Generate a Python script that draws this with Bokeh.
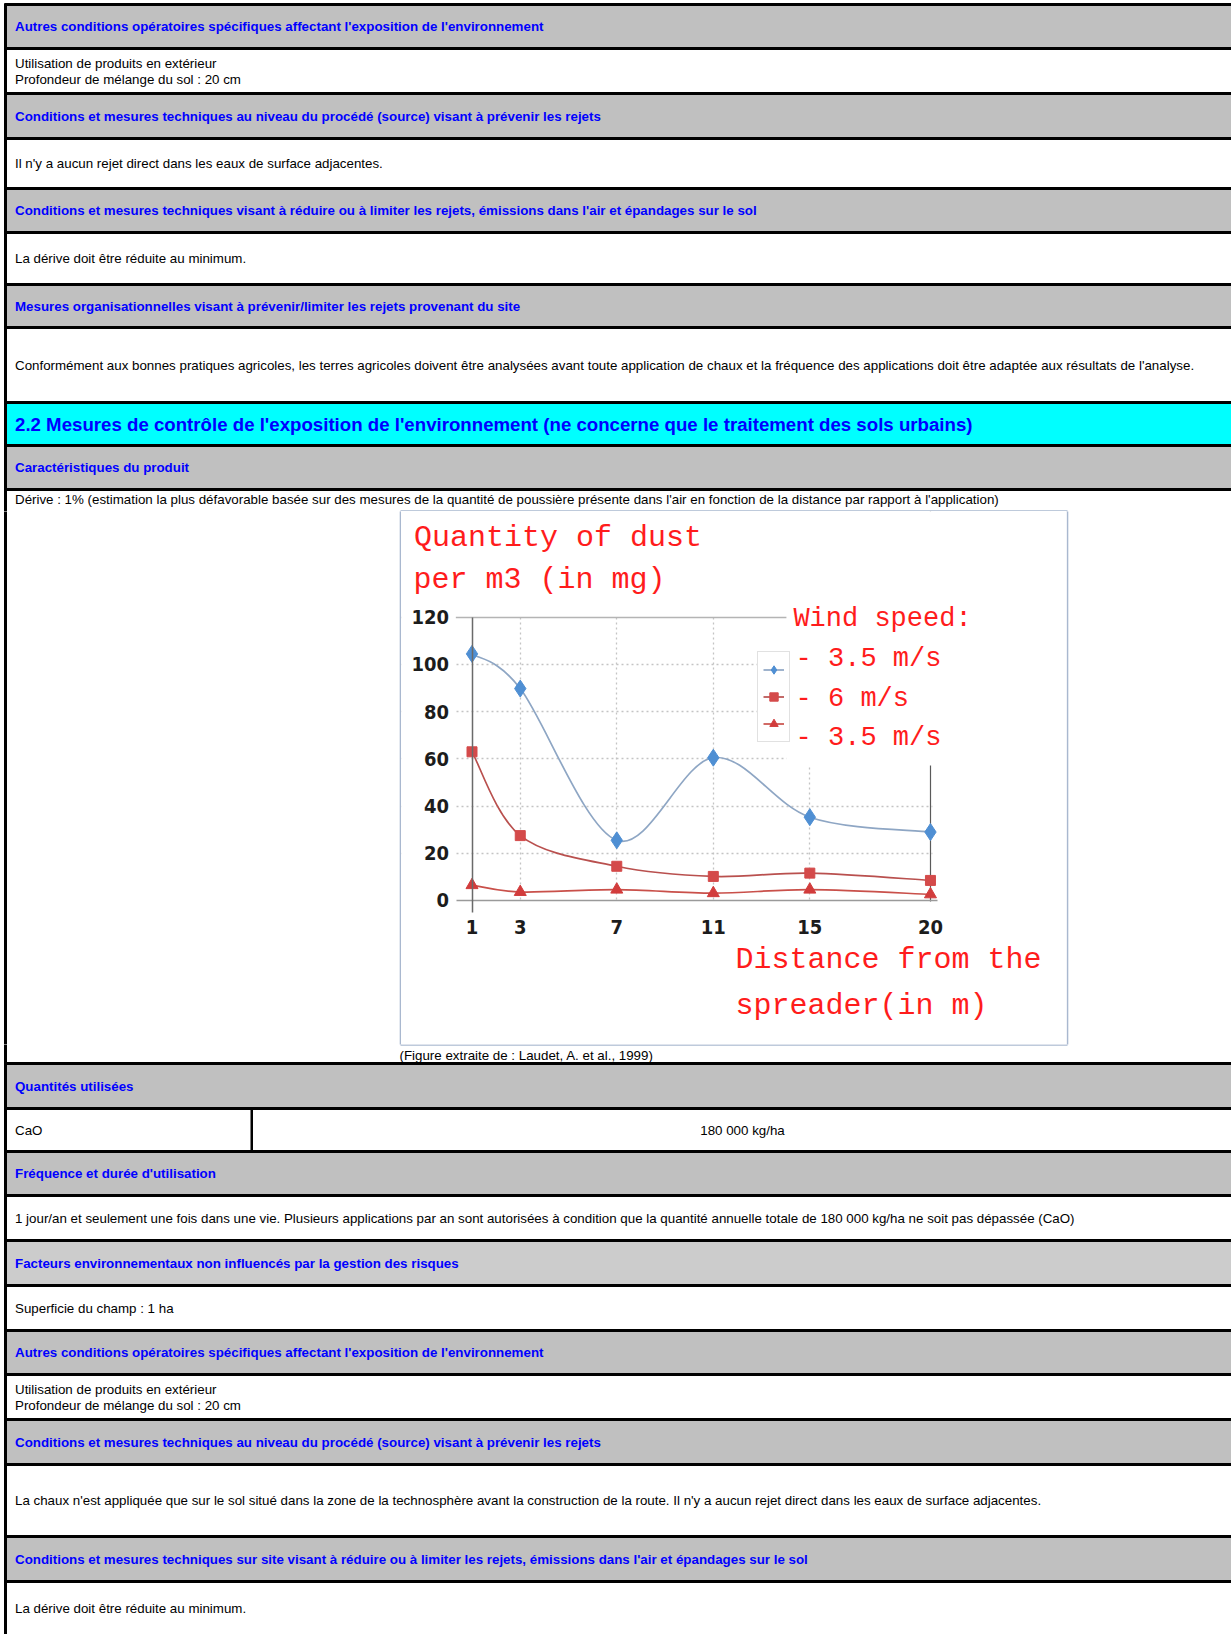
from bokeh.plotting import figure
from bokeh.layouts import column, row
from bokeh.models import (Range1d, FixedTicker, BoxAnnotation, Label, Grid, LinearAxis,
                          Legend, LegendItem, ColumnDataSource, GlobalInlineStyleSheet)
from bokeh.core.properties import value
from bokeh.embed import file_html
from bokeh.resources import INLINE

# ---------------- chart data ----------------
distance_m = [1, 3, 7, 11, 15, 20]
dust_wind_3_5_a = [104.5, 89.8, 25.5, 60.5, 35.3, 29.0]
dust_wind_6 = [63.0, 27.5, 14.5, 10.2, 11.6, 8.5]
dust_wind_3_5_b = [6.5, 3.6, 4.6, 3.1, 4.6, 2.6]
dust_ticks = [0, 20, 40, 60, 80, 100, 120]
legend_title = "Wind speed:"
legend_labels = ["- 3.5 m/s", "- 6 m/s", "- 3.5 m/s"]
chart_title = ["Quantity of dust", "per m3 (in mg)"]
chart_xlabel = ["Distance from the", "spreader(in m)"]
caption = "(Figure extraite de : Laudet, A. et al., 1999)"

# ---------------- document texts ----------------
t_autres = "Autres conditions opératoires spécifiques affectant l'exposition de l'environnement"
t_util = "Utilisation de produits en extérieur"
t_prof = "Profondeur de mélange du sol : 20 cm"
t_cond_src = "Conditions et mesures techniques au niveau du procédé (source) visant à prévenir les rejets"
t_aucun = "Il n'y a aucun rejet direct dans les eaux de surface adjacentes."
t_cond_red = "Conditions et mesures techniques visant à réduire ou à limiter les rejets, émissions dans l'air et épandages sur le sol"
t_derive_min = "La dérive doit être réduite au minimum."
t_orga = "Mesures organisationnelles visant à prévenir/limiter les rejets provenant du site"
t_conforme = ("Conformément aux bonnes pratiques agricoles, les terres agricoles doivent être analysées avant toute "
              "application de chaux et la fréquence des applications doit être adaptée aux résultats de l'analyse.")
t_section = "2.2 Mesures de contrôle de l'exposition de l'environnement (ne concerne que le traitement des sols urbains)"
t_carac = "Caractéristiques du produit"
t_derive = ("Dérive : 1% (estimation la plus défavorable basée sur des mesures de la quantité de poussière présente "
            "dans l'air en fonction de la distance par rapport à l'application)")
t_quant = "Quantités utilisées"
t_cao = "CaO"
t_cao_val = "180 000 kg/ha"
t_freq = "Fréquence et durée d'utilisation"
t_jour = ("1 jour/an et seulement une fois dans une vie. Plusieurs applications par an sont autorisées à condition "
          "que la quantité annuelle totale de 180 000 kg/ha ne soit pas dépassée (CaO)")
t_fact = "Facteurs environnementaux non influencés par la gestion des risques"
t_superf = "Superficie du champ : 1 ha"
t_chaux = ("La chaux n'est appliquée que sur le sol situé dans la zone de la technosphère avant la construction "
           "de la route. Il n'y a aucun rejet direct dans les eaux de surface adjacentes.")
t_cond_site = ("Conditions et mesures techniques sur site visant à réduire ou à limiter les rejets, émissions "
               "dans l'air et épandages sur le sol")

# page layout (pixel rows of the document table)
doc_rows = [
    (4, 48, "hdr", [t_autres]),
    (48, 93, "body", [t_util, t_prof]),
    (93, 138, "hdr", [t_cond_src]),
    (138, 188, "body", [t_aucun]),
    (188, 232, "hdr", [t_cond_red]),
    (232, 284, "body", [t_derive_min]),
    (284, 327, "hdr", [t_orga]),
    (327, 402, "body", [t_conforme]),
    (402, 445, "sec", [t_section]),
    (445, 489, "hdr", [t_carac]),
    (489, 1063, "top", [t_derive]),
    (1063, 1108, "hdr", [t_quant]),
    (1108, 1151, "split", [t_cao, t_cao_val]),
    (1151, 1195, "hdr", [t_freq]),
    (1195, 1240, "body", [t_jour]),
    (1240, 1285, "hdr2", [t_fact]),
    (1285, 1330, "body", [t_superf]),
    (1330, 1374, "hdr", [t_autres]),
    (1374, 1419, "body", [t_util, t_prof]),
    (1419, 1464, "hdr", [t_cond_src]),
    (1464, 1536, "body", [t_chaux]),
    (1536, 1581, "hdr", [t_cond_site]),
    (1581, 1634, "body", [t_derive_min]),
]

PAGE_W = 1231
PAGE_H = 1634
FILLS = {"hdr": "#c0c0c0", "hdr2": "#cccccc", "sec": "#00ffff",
         "body": "#ffffff", "top": "#ffffff", "split": "#ffffff"}
CHART_BOX = (400, 1067, 510.5, 1044.5)  # left, right, top, bottom of the picture frame
SANS = "Liberation Sans"

fills = dict(left=[], right=[], top=[], bottom=[], color=[])
bars = dict(left=[], right=[], top=[], bottom=[], color=[])
txt = {k: [] for k in ("body", "hdr", "sec", "center")}

for (t, b, kind, lines) in doc_rows:
    fills["left"].append(5); fills["right"].append(PAGE_W)
    fills["top"].append(t); fills["bottom"].append(b); fills["color"].append(FILLS[kind])
    bars["left"].append(4); bars["right"].append(PAGE_W)
    bars["top"].append(t - 1.5); bars["bottom"].append(t + 1.5); bars["color"].append("#000000")
    mid = (t + b) / 2.0
    style = {"hdr": "hdr", "hdr2": "hdr", "sec": "sec"}.get(kind, "body")
    if kind == "split":
        txt["body"].append((14.5, mid, lines[0]))
        txt["center"].append(((251 + PAGE_W + 2) / 2.0, mid, lines[1]))
        bars["left"].append(250); bars["right"].append(252.5)
        bars["top"].append(t); bars["bottom"].append(b); bars["color"].append("#000000")
    elif kind == "top":
        txt["body"].append((14.5, t + 10, lines[0]))
    elif len(lines) == 2:
        for dy, s in zip((-7.5, 8.5), lines):
            txt[style].append((14.5, mid + dy, s))
    else:
        txt[style].append((14.5, mid, lines[0]))
txt["body"].append((399, 1055, caption))

# left page border
bars["left"].append(3.5); bars["right"].append(6.5)
bars["top"].append(3); bars["bottom"].append(PAGE_H); bars["color"].append("#000000")
# frame of the inserted picture
L, R, T, B = CHART_BOX
for (l, r, tt, bb) in ((L - 0.8, L + 0.8, T, B), (R - 0.8, R + 0.8, T, B),
                       (L, R, T - 0.8, T + 0.8), (L, R, B - 0.8, B + 0.8)):
    bars["left"].append(l); bars["right"].append(r)
    bars["top"].append(tt); bars["bottom"].append(bb); bars["color"].append("#a9b8cf")

TEXT_STYLES = {
    "body": dict(text_font_size="13.33px", text_color="#000000", text_align="left"),
    "center": dict(text_font_size="13.33px", text_color="#000000", text_align="center"),
    "hdr": dict(text_font_size="13.33px", text_color="#0000ff", text_align="left", text_font_style="bold"),
    "sec": dict(text_font_size="18.67px", text_color="#0000ff", text_align="left", text_font_style="bold"),
}


def doc_fig(x0, x1, y0, y1):
    p = figure(width=x1 - x0, height=y1 - y0, x_range=Range1d(x0, x1), y_range=Range1d(y1, y0),
               x_axis_type=None, y_axis_type=None, toolbar_location=None, output_backend="svg",
               min_border=0, outline_line_color=None, background_fill_color="white",
               border_fill_color="white")
    p.quad(left="left", right="right", top="top", bottom="bottom", fill_color="color",
           line_color=None, source=ColumnDataSource(fills))
    p.quad(left="left", right="right", top="top", bottom="bottom", fill_color="color",
           line_color=None, source=ColumnDataSource(bars))
    for key, entries in txt.items():
        sel = [e for e in entries if y0 + 4 < e[1] < y1 - 4 and x0 <= e[0] < x1]
        if not sel:
            continue
        src = ColumnDataSource(dict(x=[e[0] for e in sel], y=[e[1] for e in sel], text=[e[2] for e in sel]))
        p.text(x="x", y="y", text="text", source=src, text_font=value(SANS),
               text_baseline="middle", **TEXT_STYLES[key])
    return p


top_fig = doc_fig(0, PAGE_W, 0, 511)
left_fig = doc_fig(0, 401, 511, 1044)
right_fig = doc_fig(1066, PAGE_W, 511, 1044)
bottom_fig = doc_fig(0, PAGE_W, 1044, PAGE_H)

# ---------------- the chart ----------------
# the picture spans page x 401..1066, y 511..1044; x=1 sits at 471.5 px, 24.13 px per metre;
# y=0 sits at 900 px, 2.36 px per mg
chart = figure(width=665, height=533, x_range=Range1d(-1.922, 25.638), y_range=Range1d(-61.02, 164.83),
               x_axis_type=None, y_axis_type=None, min_border=0,
               toolbar_location=None, output_backend="svg", outline_line_color=None,
               background_fill_color="white", border_fill_color="white")

AX_FONT = "'Liberation Sans Narrow', 'DejaVu Sans Condensed', 'Liberation Sans', sans-serif"
yax = LinearAxis(ticker=FixedTicker(ticks=dust_ticks), fixed_location=distance_m[0],
                 bounds=(-5, dust_ticks[-1]), axis_line_color="#6a6a6a", axis_line_width=1.5,
                 major_label_standoff=23)
xax = LinearAxis(ticker=FixedTicker(ticks=distance_m), fixed_location=dust_ticks[0],
                 bounds=(0.35, 20.3), axis_line_color="#9a9a9a", axis_line_width=1.5,
                 major_label_standoff=20)
for ax in (xax, yax):
    ax.major_tick_line_color = None
    ax.minor_tick_line_color = None
    ax.major_tick_out = 0
    ax.major_tick_in = 0
    ax.major_label_text_font = AX_FONT
    ax.major_label_text_font_style = "bold"
    ax.major_label_text_font_size = "20px"
    ax.major_label_text_color = "#1c1c1c"
chart.add_layout(yax, "left")
chart.add_layout(xax, "below")

# dotted grid and the plot-area border
chart.add_layout(Grid(dimension=1, ticker=FixedTicker(ticks=dust_ticks[1:-1]), grid_line_color="#c4c4c4",
                      grid_line_dash="2 3", grid_line_width=1.3))
chart.add_layout(Grid(dimension=0, ticker=FixedTicker(ticks=distance_m[1:-1]), grid_line_color="#c4c4c4",
                      grid_line_dash="2 3", grid_line_width=1.3))
chart.add_layout(Grid(dimension=1, ticker=FixedTicker(ticks=[dust_ticks[-1]]), grid_line_color="#b4b4b4",
                      grid_line_width=1.5))
chart.add_layout(Grid(dimension=0, ticker=FixedTicker(ticks=[distance_m[-1]]), grid_line_color="#5a5a5a",
                      grid_line_width=1.2))
# white masks that limit the grid to the plot area, and the panel behind the red text
for kw in (dict(top=-0.4), dict(bottom=120.7), dict(left=20.08), dict(right=0.33),
           dict(left=14.03, bottom=57.2)):
    chart.add_layout(BoxAnnotation(fill_color="white", fill_alpha=1.0, line_alpha=0.0,
                                   level="underlay", **kw))


def bezier_source(xs, ys):
    n = len(xs)
    d = dict(x0=[], y0=[], x1=[], y1=[], cx0=[], cy0=[], cx1=[], cy1=[])
    for i in range(n - 1):
        im = max(i - 1, 0)
        ip = min(i + 2, n - 1)
        d["x0"].append(xs[i]); d["y0"].append(ys[i])
        d["x1"].append(xs[i + 1]); d["y1"].append(ys[i + 1])
        d["cx0"].append(xs[i] + (xs[i + 1] - xs[im]) / 6.0)
        d["cy0"].append(ys[i] + (ys[i + 1] - ys[im]) / 6.0)
        d["cx1"].append(xs[i + 1] - (xs[ip] - xs[i]) / 6.0)
        d["cy1"].append(ys[i + 1] - (ys[ip] - ys[i]) / 6.0)
    return ColumnDataSource(d)


series = [
    (dust_wind_3_5_a, "#8ea6c4", "diamond", "#4f8fd3", 17),
    (dust_wind_6, "#b9504e", "square", "#d44a4a", 10),
    (dust_wind_3_5_b, "#c9504a", "triangle", "#d23c3c", 12),
]
items = []
for ys, lc, mk, mc, sz in series:
    lr = chart.bezier(x0="x0", y0="y0", x1="x1", y1="y1", cx0="cx0", cy0="cy0", cx1="cx1", cy1="cy1",
                      source=bezier_source(distance_m, ys), line_color=lc, line_width=1.7)
    sr = chart.scatter(x=distance_m, y=ys, marker=mk, size=sz, fill_color=mc, line_color=mc)
    items.append(LegendItem(label=" ", renderers=[lr, sr]))

legend = Legend(items=items, location=(356, 302), orientation="vertical", margin=0, padding=5,
                spacing=2, glyph_width=21, glyph_height=25, label_width=0, label_height=0,
                label_standoff=0, label_text_font_size="1px", border_line_color="#c4c4c4",
                border_line_width=1.2, background_fill_color="white", background_fill_alpha=1.0)
chart.add_layout(legend)

RED = "#ff1c1c"
MONO = "Liberation Mono"
for (x, y, s, fs) in [(-1.404, 153.8, chart_title[0], "30px"), (-1.425, 135.6, chart_title[1], "30px"),
                      (14.32, 119.2, legend_title, "27px"), (14.41, 102.3, legend_labels[0], "27px"),
                      (14.41, 85.3, legend_labels[1], "27px"), (14.41, 68.7, legend_labels[2], "27px"),
                      (11.92, -25.4, chart_xlabel[0], "30px"), (11.92, -44.5, chart_xlabel[1], "30px")]:
    chart.add_layout(Label(x=x, y=y, text=s, text_font=MONO, text_font_size=fs, text_color=RED,
                           text_baseline="middle", text_align="left"))

layout = column(top_fig, row(left_fig, chart, right_fig), bottom_fig,
                stylesheets=[GlobalInlineStyleSheet(css="html, body { margin: 0 !important; padding: 0; overflow: hidden; }")])

open("out.html", "w").write(file_html(layout, INLINE))
